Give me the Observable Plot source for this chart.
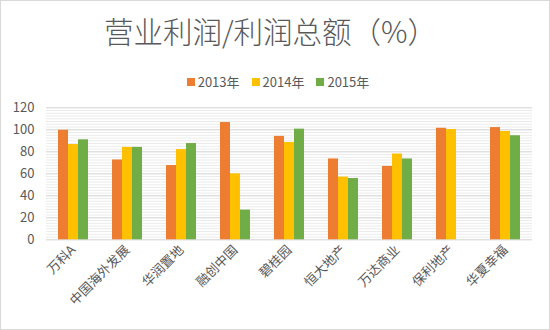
<!DOCTYPE html>
<html>
<head>
<meta charset="utf-8">
<script src="https://cdn.jsdelivr.net/npm/d3@7"></script>
<script src="https://cdn.jsdelivr.net/npm/@observablehq/plot@0.6"></script>
<style>
  body { margin: 0; background: #fff; }
  #wrap { position: relative; width: 550px; height: 330px; background: #fff; overflow: hidden;
          font-family: "Noto Sans CJK SC", "Noto Sans", sans-serif; color: #595959; }
  #border { position: absolute; inset: 0; border: 1px solid #d9d9d9; box-sizing: border-box; pointer-events: none; }
  #title { position: absolute; left: 0; top: 12px; width: 541px; text-align: center;
           font-size: 29.5px; font-weight: 300; line-height: 36px; color: #595959; }
  #legend { position: absolute; left: 0; top: 72px; width: 556px; display: flex; justify-content: center;
            gap: 12px; font-size: 13px; line-height: 20px; color: #595959; }
  #legend span.item { display: flex; align-items: center; }
  #legend span.sw { display: inline-block; width: 8px; height: 8px; margin-right: 3px; }
  #chart { position: absolute; left: 0; top: 94px; }
</style>
</head>
<body>
<div id="wrap">
  <div id="title"></div>
  <div id="legend"></div>
  <div id="chart"></div>
  <div id="border"></div>
</div>
<script>
const titleText = "营业利润/利润总额（%）";
const categories = ["万科A", "中国海外发展", "华润置地", "融创中国", "碧桂园", "恒大地产", "万达商业", "保利地产", "华夏幸福"];
const years = ["2013年", "2014年", "2015年"];
const v2013 = [99.6, 72.6, 67.5, 106.6, 94.0, 73.5, 66.7, 101.4, 102.0];
const v2014 = [86.6, 84.0, 82.0, 60.0, 88.5, 57.0, 78.0, 100.3, 98.5];
const v2015 = [90.9, 84.0, 87.5, 27.0, 100.6, 55.7, 73.5, null, 94.6];
const yTicks = [0, 20, 40, 60, 80, 100, 120];
const colors = ["#ED7D31", "#FFC000", "#70AD47"];

const series = [v2013, v2014, v2015];
const rows = categories.flatMap((c, i) =>
  years.map((y, j) => ({category: c, year: y, value: series[j][i]}))
).filter(d => d.value != null);

const minorTicks = d3.range(0, 120.01, 2.5);

document.getElementById("title").textContent = titleText;
const legend = document.getElementById("legend");
years.forEach((y, i) => {
  const item = document.createElement("span");
  item.className = "item";
  const sw = document.createElement("span");
  sw.className = "sw";
  sw.style.background = colors[i];
  item.appendChild(sw);
  item.appendChild(document.createTextNode(y));
  legend.appendChild(item);
});

const chart = Plot.plot({
  width: 550,
  height: 236,
  marginTop: 13.3,
  marginBottom: 90.7,
  marginLeft: 44,
  marginRight: 17,
  style: {fontFamily: "'Noto Sans CJK SC', 'Noto Sans', sans-serif", color: "#595959", background: "transparent"},
  fx: {domain: categories, padding: 0, label: null},
  x: {domain: years, paddingInner: 0, paddingOuter: 0.97, axis: null},
  y: {domain: [0, 120], label: null},
  color: {domain: years, range: colors},
  marks: [
    Plot.ruleY(minorTicks, {stroke: "#ebebeb", strokeWidth: 1}),
    Plot.ruleY(yTicks, {stroke: "#d9d9d9", strokeWidth: 1}),
    Plot.barY(rows, {fx: "category", x: "year", y: "value", fill: "year", inset: 0}),
    Plot.axisY({ticks: yTicks, tickSize: 0, tickPadding: 12, fontSize: 13, label: null}),
    Plot.axisFx({anchor: "bottom", tickSize: 0, tickPadding: 8, tickRotate: -45, fontSize: 13, label: null})
  ]
});
document.getElementById("chart").appendChild(chart);
</script>
</body>
</html>
